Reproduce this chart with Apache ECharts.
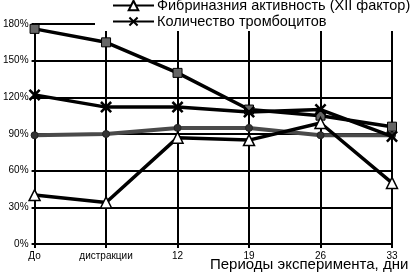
<!DOCTYPE html>
<html><head><meta charset="utf-8">
<script src="https://cdn.jsdelivr.net/npm/echarts@6/dist/echarts.min.js"></script>
<style>html,body{margin:0;padding:0;background:#fff}#c{width:415px;height:279px}</style>
</head><body><div id="c"></div>
<script>
const categories = ['До', 'дистракции', '12', '19', '26', '33'];
const yTicks = [0, 30, 60, 90, 120, 150, 180];
const squares = [176, 165, 140, 110, 105, 96];
const platelets = [122, 112, 112, 108, 110, 88];
const grayDots = [89, 90, 95, 95, 89, 89];
const fibrinase = [40, 34, 87, 85, 99, 50];
const legendNames = ['Фибриназния активность (XII фактор)', 'Количество тромбоцитов'];
const xName = 'Периоды эксперимента, дни';

const chart = echarts.init(document.getElementById('c'), null, {renderer: 'canvas'});
const xPath = 'path://M0,1.5 L1.5,0 L5,3.5 L8.5,0 L10,1.5 L6.5,5 L10,8.5 L8.5,10 L5,6.5 L1.5,10 L0,8.5 L3.5,5 Z';
const font = 'Liberation Sans, Arial, sans-serif';
chart.setOption({
  animation: false,
  backgroundColor: '#fff',
  grid: {left: 33, right: 23, top: 24, bottom: 35},
  legend: {
    data: [legendNames[0], legendNames[1]],
    orient: 'vertical', left: 112, top: -2, itemGap: 1, padding: 0,
    itemWidth: 41, itemHeight: 12,
    textStyle: {fontFamily: font, fontSize: 14.5, lineHeight: 14, color: '#000', padding: [0,0,0,-2]}
  },
  graphic: [
    {type: 'rect', left: 95, top: 0, shape: {width: 320, height: 31}, style: {fill: '#fff'}, z: 3},
    {type: 'text', left: 210, top: 257, style: {text: xName, fontFamily: font, fontSize: 15, fill: '#000'}, z: 5}
  ],
  xAxis: {
    type: 'category', data: categories, boundaryGap: false,
    axisLine: {lineStyle: {color: '#000', width: 2}},
    axisTick: {show: true, length: 4, lineStyle: {color: '#000', width: 2}},
    splitLine: {show: true, lineStyle: {color: '#000', width: 2}},
    axisLabel: {color: '#000', fontFamily: font, fontSize: 10, margin: 7}
  },
  yAxis: {
    type: 'value', min: 0, max: 180, interval: 30,
    axisLine: {show: true, lineStyle: {color: '#000', width: 2}},
    axisTick: {show: true, length: 3, lineStyle: {color: '#000', width: 2}},
    splitLine: {show: true, lineStyle: {color: '#000', width: 2}},
    axisLabel: {color: '#000', fontFamily: font, fontSize: 10, margin: 6, formatter: '{value}%'}
  },
  series: [
    {name: 'Series A', type: 'line', data: squares, symbol: 'rect', symbolSize: 9,
      lineStyle: {color: '#000', width: 3.5}, itemStyle: {color: '#666', borderColor: '#000', borderWidth: 1}, z: 3},
    {name: legendNames[1], type: 'line', data: platelets, symbol: xPath, symbolSize: 12,
      lineStyle: {color: '#000', width: 3.5}, itemStyle: {color: '#000'}, z: 4},
    {name: 'Series C', type: 'line', data: grayDots, symbol: 'circle', symbolSize: 7,
      lineStyle: {color: '#4a4a4a', width: 4}, itemStyle: {color: '#333', borderColor: '#222', borderWidth: 1}, z: 2},
    {name: legendNames[0], type: 'line', data: fibrinase, symbol: 'triangle', symbolSize: 11,
      lineStyle: {color: '#000', width: 3.5}, itemStyle: {color: '#fff', borderColor: '#000', borderWidth: 1.5}, z: 5}
  ]
});
</script></body></html>
